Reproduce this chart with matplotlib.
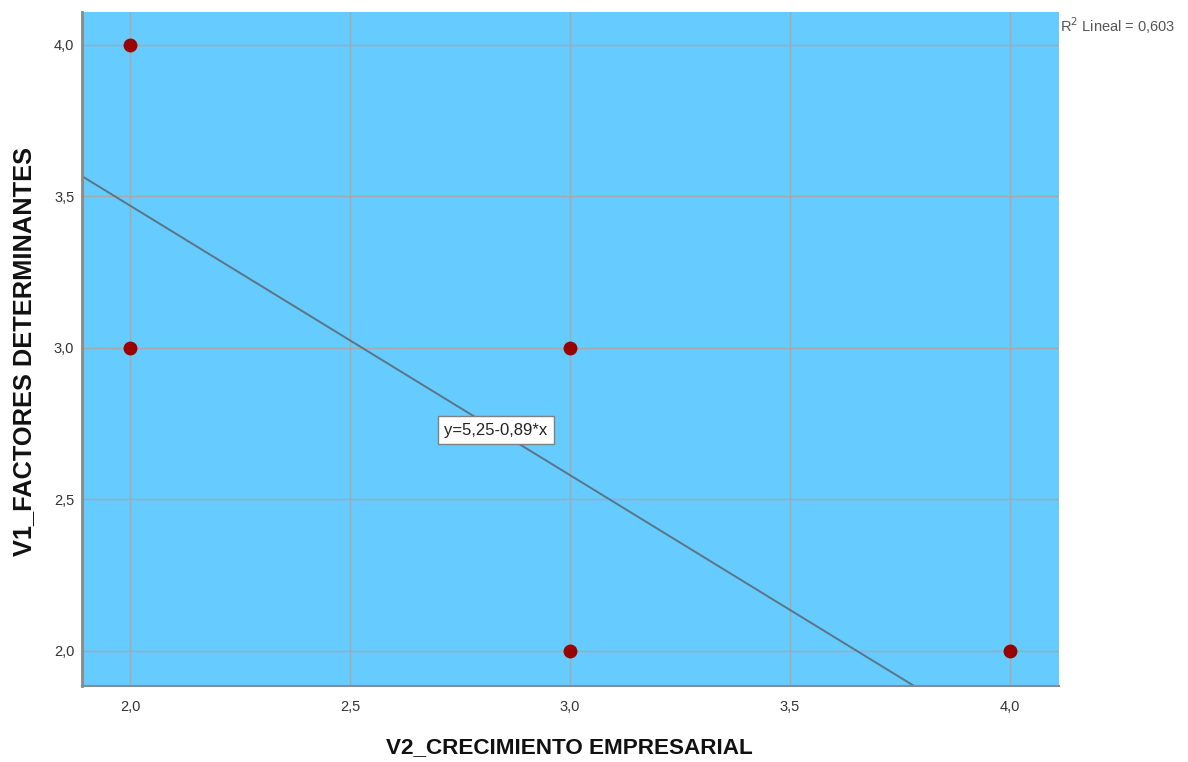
import numpy as np
import matplotlib
matplotlib.use("Agg")
import matplotlib.pyplot as plt
from matplotlib.ticker import FuncFormatter

# observed points (V2, V1)
x_vals = [2.0, 2.0, 3.0, 3.0, 4.0]
y_vals = [4.0, 3.0, 3.0, 2.0, 2.0]

# linear fit reported by SPSS
intercept = 5.25
slope = -0.89
r2 = 0.603

x_ticks = [2.0, 2.5, 3.0, 3.5, 4.0]
y_ticks = [2.0, 2.5, 3.0, 3.5, 4.0]

plt.rcParams["font.family"] = ["Liberation Sans", "DejaVu Sans"]

fig = plt.figure(figsize=(11.88, 7.62), dpi=100)
ax = fig.add_axes([0.069, 0.0997, 0.8224, 0.8846])
ax.set_facecolor("#66CCFF")

ax.set_xlim(1.891, 4.111)
ax.set_ylim(1.884, 4.109)
ax.set_xticks(x_ticks)
ax.set_yticks(y_ticks)
comma = FuncFormatter(lambda v, p: f"{v:.1f}".replace(".", ","))
ax.xaxis.set_major_formatter(comma)
ax.yaxis.set_major_formatter(comma)
ax.tick_params(length=0, labelsize=10.5, colors="#333333")
ax.tick_params(axis="x", pad=10)
ax.tick_params(axis="y", pad=5.5)
ax.grid(True, color="#a8a8a8", lw=1)
ax.set_axisbelow(True)

for s in ["top", "right"]:
    ax.spines[s].set_visible(False)
ax.spines["left"].set_color("#8a8a8a")
ax.spines["left"].set_linewidth(2)
ax.spines["bottom"].set_color("#8a8a8a")
ax.spines["bottom"].set_linewidth(1.5)

# fit line
xs = np.array(ax.get_xlim())
ax.plot(xs, intercept + slope * xs, color="#5a7585", lw=1.4, zorder=2)

ax.scatter(x_vals, y_vals, s=100, color="#990000", zorder=3, linewidths=0)

ax.text(2.832, 2.729, f"y={intercept:.2f}{slope:.2f}*x".replace(".", ","),
        fontsize=12, ha="center", va="center", color="#222222", zorder=4,
        bbox=dict(boxstyle="square,pad=0.4", fc="white", ec="#808080", lw=1))

fig.text(0.8924, 0.966, r"R$^2$ Lineal = " + f"{r2:.3f}".replace(".", ","),
         fontsize=10.5, color="#555555", ha="left", va="center")

fig.text(569 / 1188, 1 - 753 / 762, "V2_CRECIMIENTO EMPRESARIAL", fontsize=16.2,
         fontweight="bold", color="#111111", ha="center", va="baseline")
fig.text(24 / 1188, 1 - 351 / 762, "V1_FACTORES DETERMINANTES", fontsize=18.3,
         fontweight="bold", color="#111111", ha="center", va="center",
         rotation=90)

fig.savefig("out.png", dpi=100)
